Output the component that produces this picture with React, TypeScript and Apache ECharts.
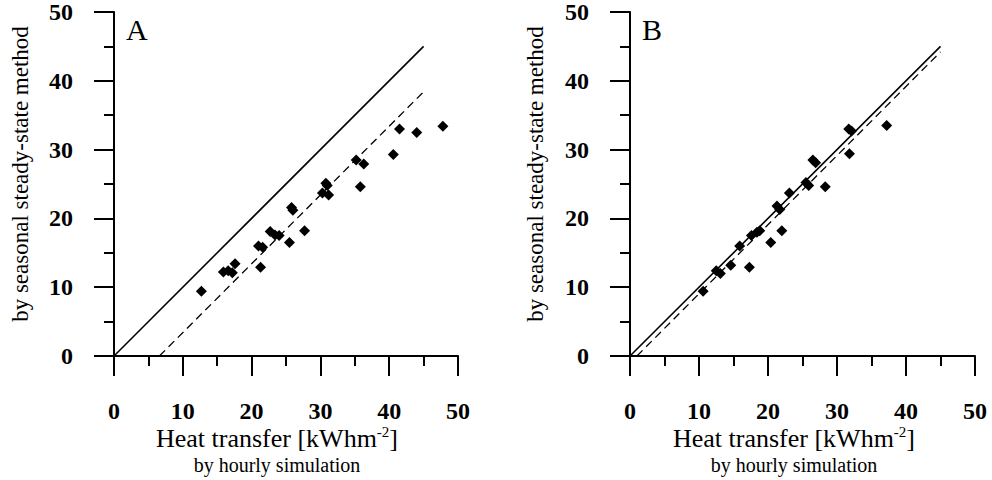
import React, { useEffect, useRef } from "react";
import * as echarts from "echarts";

// Panel A: [hourly simulation, seasonal steady-state]
const pointsA: number[][] = [
  [12.7, 9.4], [15.9, 12.2], [16.6, 12.4], [17.2, 12.1], [17.6, 13.4],
  [21.3, 12.9], [21.0, 16.0], [21.6, 15.8], [22.7, 18.1], [23.4, 17.6],
  [24.0, 17.5], [25.5, 16.5], [25.8, 21.6], [26.0, 21.2], [27.7, 18.2],
  [30.3, 23.7], [30.8, 25.1], [31.0, 24.8], [31.2, 23.4], [35.2, 28.5],
  [36.3, 27.9], [35.8, 24.6], [40.6, 29.3], [41.5, 33.0], [44.0, 32.5],
  [47.8, 33.4],
];
const pointsB: number[][] = [
  [10.6, 9.4], [12.5, 12.4], [13.1, 12.0], [14.6, 13.2], [17.3, 12.9],
  [15.9, 16.0], [17.6, 17.5], [18.4, 18.0], [18.8, 18.2], [20.4, 16.5],
  [22.0, 18.2], [21.3, 21.8], [21.7, 21.3], [23.1, 23.7], [25.5, 25.2],
  [25.9, 24.8], [26.5, 28.5], [26.9, 28.1], [28.3, 24.6], [31.8, 29.4],
  [31.7, 33.0], [32.1, 32.7], [37.2, 33.5],
];
const identityLine: number[][] = [[0, 0], [45, 45]];
const fitLineA: number[][] = [[6.6, 0], [45, 38.4]];
const fitLineB: number[][] = [[1.0, 0], [45, 44.2]];
const panelLetters = ["A", "B"];
const xTitle = "Heat transfer [kWhm";
const xTitleSup = "-2";
const xSubtitle = "by hourly simulation";
const yTitle = "by seasonal steady-state method";

const SERIF = "'Liberation Serif', 'DejaVu Serif', serif";

export default function App() {
  const ref = useRef<HTMLDivElement>(null);
  useEffect(() => {
    if (!ref.current) return;
    const chart = echarts.init(ref.current, null, { renderer: "svg" });
    const grids = [
      { left: 114, top: 10, width: 344, height: 346 },
      { left: 630, top: 10, width: 345, height: 346 },
    ];
    const axisCommon = {
      type: "value",
      min: 0,
      max: 50,
      interval: 10,
      splitLine: { show: false },
      axisLine: { show: true, onZero: false, lineStyle: { color: "#000", width: 2 } },
      axisTick: { show: true, length: 20, lineStyle: { color: "#000", width: 2 } },
      minorTick: { show: true, splitNumber: 2, length: 10, lineStyle: { color: "#000", width: 2 } },
      axisLabel: {
        color: "#000",
        fontFamily: SERIF,
        fontWeight: "bold",
        fontSize: 24,
      },
    };
    const xAxes = [0, 1].map((i) => ({
      ...axisCommon,
      gridIndex: i,
      axisLabel: { ...axisCommon.axisLabel, margin: 43 },
    }));
    const yAxes = [0, 1].map((i) => ({
      ...axisCommon,
      gridIndex: i,
      axisLabel: { ...axisCommon.axisLabel, margin: 41 },
    }));
    const scatter = (data: number[][], i: number) => ({
      type: "scatter",
      xAxisIndex: i,
      yAxisIndex: i,
      data,
      symbol: "diamond",
      symbolSize: 11,
      itemStyle: { color: "#000", opacity: 1 },
      z: 3,
    });
    const line = (data: number[][], i: number, dashed: boolean) => ({
      type: "line",
      xAxisIndex: i,
      yAxisIndex: i,
      data,
      showSymbol: false,
      symbol: "none",
      lineStyle: { color: "#000", width: dashed ? 1.3 : 1.6, type: dashed ? [8, 5] : "solid" },
      z: 2,
    });
    const xCenters = [277, 794];
    const yNameX = [20, 535];
    const graphic: any[] = [];
    [0, 1].forEach((i) => {
      graphic.push({
        type: "text",
        style: {
          text: panelLetters[i],
          x: grids[i].left + 12,
          y: 14,
          font: `30px ${SERIF}`,
          fill: "#000",
        },
      });
      graphic.push({
        type: "text",
        style: {
          text: `{a|${xTitle}}{s|${xTitleSup}}{a|]}`,
          x: xCenters[i],
          y: 438,
          align: "center",
          verticalAlign: "middle",
          rich: {
            a: { font: `26px ${SERIF}`, fill: "#000", lineHeight: 28 },
            s: { font: `15px ${SERIF}`, fill: "#000", verticalAlign: "top", lineHeight: 28 },
          },
        },
      });
      graphic.push({
        type: "text",
        style: {
          text: xSubtitle,
          x: xCenters[i],
          y: 465,
          align: "center",
          verticalAlign: "middle",
          font: `20px ${SERIF}`,
          fill: "#000",
        },
      });
      graphic.push({
        type: "text",
        x: yNameX[i],
        y: 174,
        rotation: Math.PI / 2,
        style: {
          text: yTitle,
          x: 0,
          y: 0,
          align: "center",
          verticalAlign: "middle",
          font: `23px ${SERIF}`,
          fill: "#000",
        },
      });
    });
    chart.setOption({
      animation: false,
      backgroundColor: "#fff",
      grid: grids,
      xAxis: xAxes,
      yAxis: yAxes,
      series: [
        line(identityLine, 0, false),
        line(fitLineA, 0, true),
        scatter(pointsA, 0),
        line(identityLine, 1, false),
        line(fitLineB, 1, true),
        scatter(pointsB, 1),
      ],
      graphic,
    });
    return () => chart.dispose();
  }, []);
  return (
    <div
      ref={ref}
      style={{ position: "fixed", left: 0, top: 0, width: 992, height: 480 }}
    />
  );
}
